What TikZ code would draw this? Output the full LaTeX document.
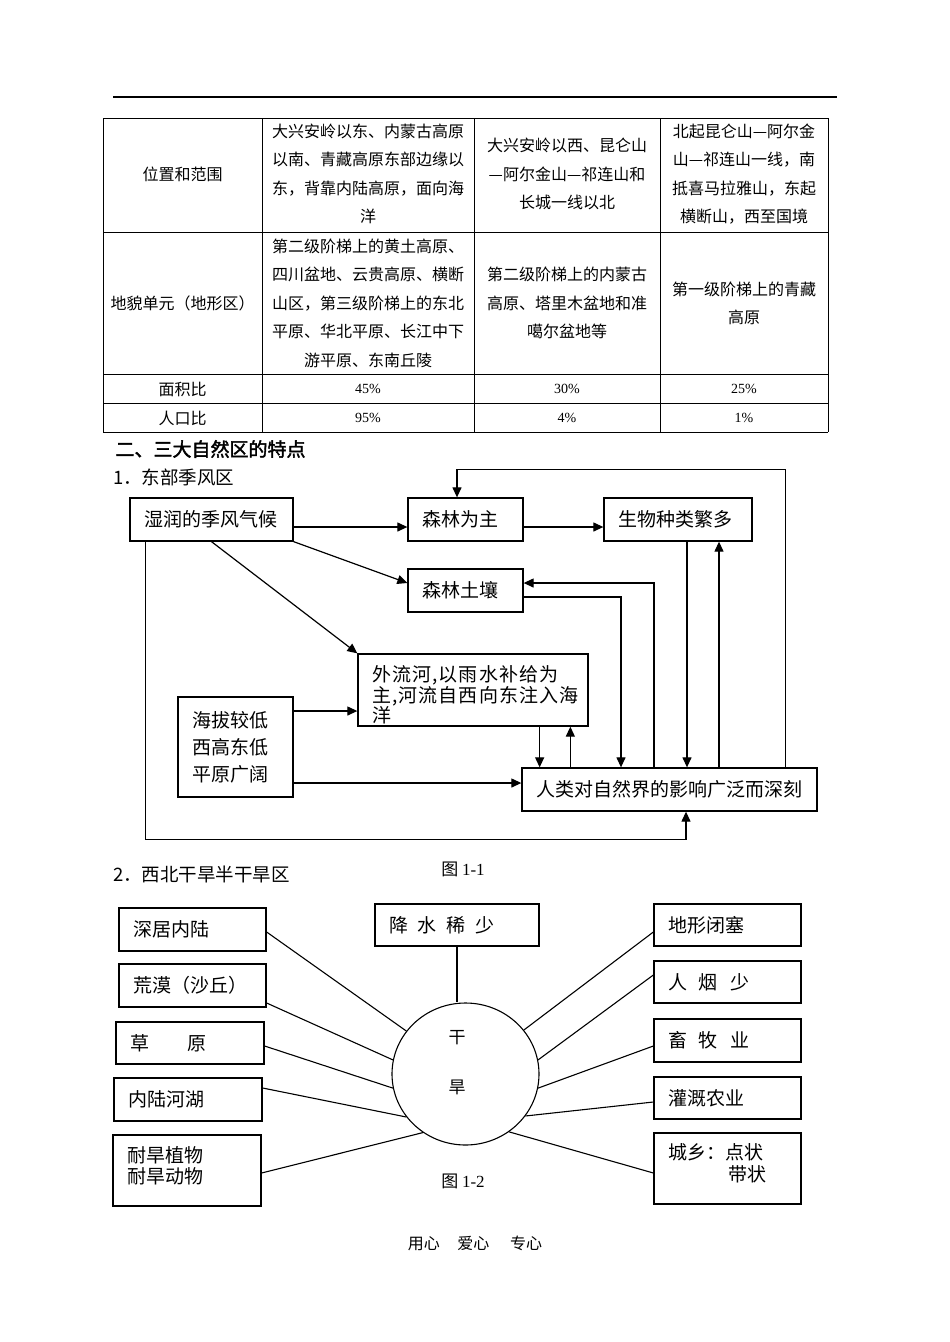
\documentclass[tikz,border=0pt]{standalone}
\usepackage{fontspec}
\setmainfont[AutoFakeBold=2]{Noto Sans CJK SC}
\newfontfamily\lat{Liberation Serif}
\usetikzlibrary{arrows.meta,shapes.geometric}
\newcommand{\fsz}[2]{\fontsize{#1}{#2}\selectfont}
\tikzset{
  bx/.style={draw, line width=1.3pt, inner xsep=14pt, inner ysep=0pt, align=left, font=\fsz{19}{23}},
  cell/.style={align=center, font=\fsz{16}{28.5}},
  num/.style={font=\lat\fsz{14}{16}},
  arr/.style={line width=1.2pt, -{Triangle[length=10pt,width=9pt]}},
  ln/.style={line width=1.1pt},
  grid/.style={line width=0.9pt}
}
\begin{document}
\begin{tikzpicture}[x=1pt,y=-1pt]
  \useasboundingbox (0,0) rectangle (950,1342);
  \fill[white] (0,0) rectangle (950,1342);
  \draw[line width=1.5pt] (113,97) -- (837,97);
  \foreach \x in {103,262,474,660,828} \draw[grid] (\x,118) -- (\x,432);
  \foreach \y in {118,232,374,403,432} \draw[grid] (103,\y) -- (828,\y);
  \node[cell] (c11) at (182.5,174) {位置和范围};
  \node[cell] (c12) at (368,174) {大兴安岭以东、内蒙古高原\\以南、青藏高原东部边缘以\\东，背靠内陆高原，面向海\\洋};
  \node[cell] (c13) at (567,174) {大兴安岭以西、昆仑山\\—阿尔金山—祁连山和\\长城一线以北};
  \node[cell] (c14) at (744,174) {北起昆仑山—阿尔金\\山—祁连山一线，南\\抵喜马拉雅山，东起\\横断山，西至国境};
  \node[cell] (c21) at (182.5,303) {地貌单元（地形区）};
  \node[cell] (c22) at (368,303) {第二级阶梯上的黄土高原、\\四川盆地、云贵高原、横断\\山区，第三级阶梯上的东北\\平原、华北平原、长江中下\\游平原、东南丘陵};
  \node[cell] (c23) at (567,303) {第二级阶梯上的内蒙古\\高原、塔里木盆地和准\\噶尔盆地等};
  \node[cell] (c24) at (744,303.5) {第一级阶梯上的青藏\\高原};
  \node[cell] (c31) at (182.5,389) {面积比};
  \node[num] (c32) at (368,389) {45\%};
  \node[num] (c33) at (567,389) {30\%};
  \node[num] (c34) at (744,389) {25\%};
  \node[cell] (c41) at (182.5,418) {人口比};
  \node[num] (c42) at (368,418) {95\%};
  \node[num] (c43) at (567,418) {4\%};
  \node[num] (c44) at (744,418) {1\%};

  \node[anchor=west, font=\fsz{19}{19}\bfseries] (h2) at (112,449) {二、三大自然区的特点};
  \node[anchor=west, font=\fsz{18.5}{19}, inner sep=0pt] (s1) at (113,477) {1．东部季风区};

  \node[bx, minimum width=163pt, minimum height=43pt, text width=135pt] (sr) at (211.5,519.5) {湿润的季风气候};
  \node[bx, minimum width=115pt, minimum height=43pt, text width=87pt] (slwz) at (465.5,519.5) {森林为主};
  \node[bx, minimum width=148pt, minimum height=43pt, text width=120pt] (swzl) at (678,519.5) {生物种类繁多};
  \node[bx, minimum width=115pt, minimum height=43pt, text width=87pt] (sltr) at (465.5,590.5) {森林土壤};
  \node[bx, minimum width=230pt, minimum height=72pt, text width=202pt, text depth=33pt, font=\fsz{19}{19.5}\addfontfeature{LetterSpace=6}] (wlh) at (473,690) {外流河,以雨水补给为\\主,河流自西向东注入海\\洋};
  \node[bx, minimum width=115pt, minimum height=100pt, text width=87pt, font=\fsz{19}{27}] (hb) at (235.5,747) {海拔较低\\西高东低\\平原广阔};
  \node[bx, minimum width=295pt, minimum height=43pt, text width=267pt] (rl) at (669.5,789.5) {人类对自然界的影响广泛而深刻};

  \draw[arr] ([yshift=-7.5pt]sr.east) -- ([yshift=-7.5pt]sr.east -| slwz.west);
  \draw[arr] ([yshift=-7.5pt]slwz.east) -- ([yshift=-7.5pt]slwz.east -| swzl.west);
  \draw[arr] (sr.south east) -- ([yshift=7.5pt]sltr.west);
  \draw[arr] (sr.south) -- (wlh.north west);
  \draw[arr] ([xshift=16pt]sr.south west) |- ([xshift=16.5pt,yshift=-28pt]rl.south) -- ([xshift=16.5pt]rl.south);
  \draw[arr] ([xshift=-32pt]rl.north east) |- ([xshift=-8.5pt,yshift=28pt]slwz.north) -- ([xshift=-8.5pt]slwz.north);
  \draw[arr] ([xshift=-15.5pt]rl.north) |- ([yshift=7.5pt]sltr.east);
  \draw[arr] ([yshift=-6.5pt]sltr.east) -| ([xshift=-48.5pt]rl.north);
  \draw[arr] ([xshift=9pt]swzl.south) -- ([xshift=9pt]swzl.south |- rl.north);
  \draw[arr] ([xshift=49.5pt]rl.north) -- ([xshift=49.5pt]rl.north |- swzl.south);
  \draw[arr] ([xshift=-49pt]wlh.south east) -- ([xshift=-49pt]wlh.south east |- rl.north);
  \draw[arr] ([xshift=49pt]rl.north west) -- ([xshift=49pt]rl.north west |- wlh.south);
  \draw[arr] ([yshift=36pt]hb.east) -- ([yshift=36pt]hb.east -| wlh.west);
  \draw[arr] ([yshift=-36pt]hb.east) -- ([yshift=-36pt]hb.east -| rl.west);

  \node[font=\fsz{17}{17}] (f1) at (463,869) {图 {\lat 1-1}};
  \node[anchor=west, font=\fsz{18.5}{19}, inner sep=0pt] (s2) at (113,874) {2．西北干旱半干旱区};

  \node[bx, minimum width=147pt, minimum height=43pt, text width=119pt] (sjnl) at (192.5,929.5) {深居内陆};
  \node[bx, minimum width=147pt, minimum height=43pt, text width=119pt] (hm) at (192.5,985.5) {荒漠（沙丘）};
  \node[bx, minimum width=148pt, minimum height=42pt, text width=120pt] (cy) at (190,1043) {草　　原};
  \node[bx, minimum width=148pt, minimum height=43pt, text width=120pt] (nlhh) at (188,1099.5) {内陆河湖};
  \node[bx, minimum width=148pt, minimum height=71pt, text width=120pt, text depth=32pt, font=\fsz{19}{21}] (nh) at (187,1170.5) {耐旱植物\\耐旱动物};
  \node[bx, minimum width=164pt, minimum height=42pt, text width=136pt] (jsxs) at (457,925) {降\hspace{10pt}水\hspace{10pt}稀\hspace{10pt}少};
  \node[bx, minimum width=147pt, minimum height=42pt, text width=119pt] (dx) at (727.5,925) {地形闭塞};
  \node[bx, minimum width=147pt, minimum height=42pt, text width=119pt] (ry) at (727.5,982) {人\hspace{12pt}烟\hspace{12pt}少};
  \node[bx, minimum width=147pt, minimum height=43pt, text width=119pt] (xm) at (727.5,1040.5) {畜\hspace{12pt}牧\hspace{12pt}业};
  \node[bx, minimum width=147pt, minimum height=42pt, text width=119pt] (gg) at (727.5,1098) {灌溉农业};
  \node[bx, minimum width=147pt, minimum height=71pt, text width=119pt, text depth=34pt, font=\fsz{19}{22}] (cx) at (727.5,1168.5) {城乡：点状\\\hspace*{3.2em}带状};

  \node[draw, ellipse, ln, minimum width=147pt, minimum height=142pt, inner sep=0pt] (gh) at (465.5,1074) {};
  \node[font=\fsz{17}{17}] (gan) at (457,1038) {干};
  \node[font=\fsz{17}{17}] (han) at (457,1087) {旱};

  \draw[ln] (jsxs.south) -- (jsxs.south |- gh.north);
  \draw[ln] ([yshift=-2.5pt]sjnl.east) -- (gh.144);
  \draw[ln] ([yshift=-17.5pt]hm.east) -- (gh.169);
  \draw[ln] ([yshift=-3pt]cy.east) -- (gh.191);
  \draw[ln] ([yshift=11.5pt]nlhh.east) -- (gh.216);
  \draw[ln] ([yshift=-2.5pt]nh.east) -- (gh.234);
  \draw[ln] ([yshift=-7pt]dx.west) -- (gh.37);
  \draw[ln] ([yshift=7pt]ry.west) -- (gh.11);
  \draw[ln] ([yshift=-5.5pt]xm.west) -- (gh.349);
  \draw[ln] ([yshift=-4pt]gg.west) -- (gh.325);
  \draw[ln] ([yshift=-4.5pt]cx.west) -- (gh.307);

  \node[font=\fsz{17}{17}] (f2) at (463,1181) {图 {\lat 1-2}};
  \node[font=\fsz{16}{16}] (ft) at (475,1243) {用心\hspace{1.1em}爱心\hspace{1.3em}专心};
\end{tikzpicture}
\end{document}
